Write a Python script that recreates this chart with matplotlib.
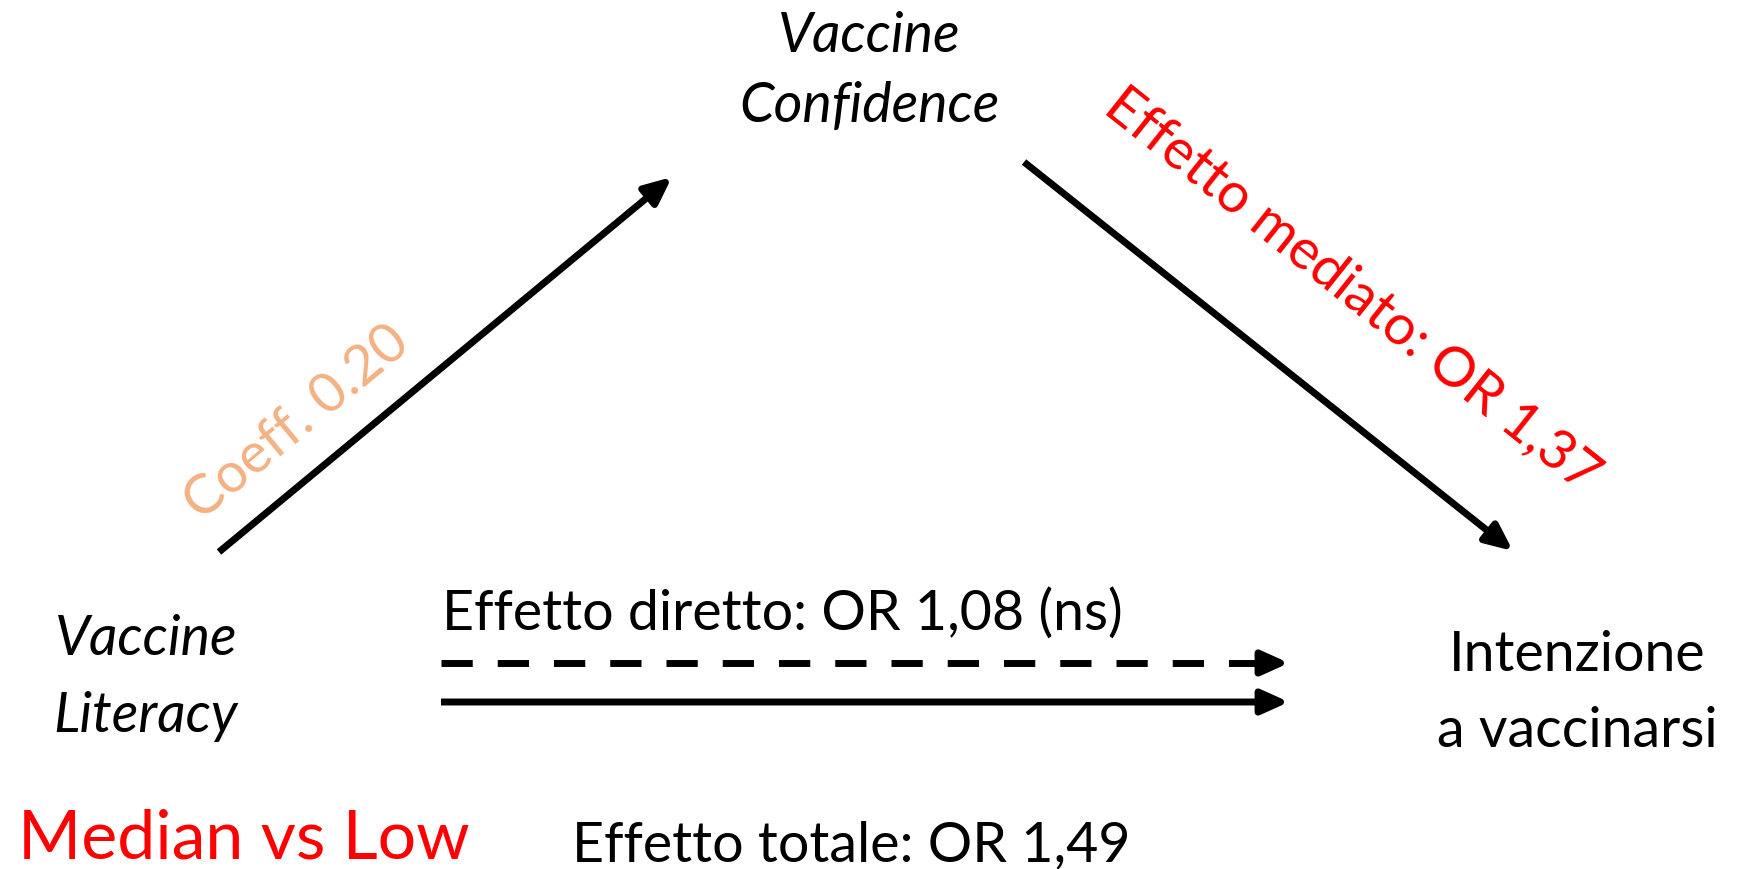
"""
Mediation diagram: Vaccine Literacy -> Vaccine Confidence -> Intenzione a vaccinarsi
(Median vs Low).
"""
import matplotlib
matplotlib.use('Agg')
import matplotlib.pyplot as plt

plt.rcParams['font.family'] = ['Lato', 'DejaVu Sans']

# ---- Data ----
NODE_X = ['Vaccine', 'Literacy']          # exposure
NODE_M = ['Vaccine', 'Confidence']        # mediator
NODE_Y = ['Intenzione', 'a vaccinarsi']   # outcome
COEFF_A = 0.20
OR_MEDIATED = 1.37
OR_DIRECT = 1.08
OR_TOTAL = 1.49
DIRECT_NS = True
CONTRAST = 'Median vs Low'


def it_num(v):
    # Italian decimal comma
    return f"{v:.2f}".replace('.', ',')


# ---- Layout (pixel coordinates, y down) ----
W, H = 1742, 870
FS = 40
FS_BIG = 49
LW = 5
RED = '#FF0000'
ORANGE = '#F4B183'

fig = plt.figure(figsize=(W / 100, H / 100), dpi=100)
ax = fig.add_axes([0, 0, 1, 1])
ax.set_xlim(0, W)
ax.set_ylim(H, 0)
ax.axis('off')


def arrow(x0, y0, x1, y1):
    ax.annotate('', xy=(x1, y1), xytext=(x0, y0),
                arrowprops=dict(arrowstyle='-|>,head_length=0.6,head_width=0.27',
                                mutation_scale=27, lw=LW, color='black',
                                shrinkA=0, shrinkB=0, capstyle='butt'))


# Node labels
for txt, y in zip(NODE_M, [52, 122]):
    ax.text(869, y, txt, fontsize=FS, style='italic', ha='center', va='baseline')
for txt, y in zip(NODE_X, [655, 732]):
    ax.text(146, y, txt, fontsize=FS, style='italic', ha='center', va='baseline')
for txt, y in zip(NODE_Y, [671, 747]):
    ax.text(1577, y, txt, fontsize=FS, ha='center', va='baseline')

# a path: X -> M
arrow(219, 553, 672, 178)
ax.text(297, 423, f"Coeff. {COEFF_A:.2f}", fontsize=FS, color=ORANGE,
        rotation=39.5, rotation_mode='anchor', ha='center', va='center')

# b path: M -> Y
arrow(1024, 163, 1513, 552)
ax.text(1352, 290, f"Effetto mediato: OR {it_num(OR_MEDIATED)}", fontsize=FS,
        color=RED, rotation=-38.5, rotation_mode='anchor', ha='center', va='center')

# direct effect (dashed) and total effect (solid)
ax.plot([441, 1262], [664, 664], color='black', lw=LW,
        linestyle=(0, (4.5, 3.6)), solid_capstyle='butt', dash_capstyle='butt')
arrow(1260, 664, 1289, 664)
arrow(441, 703, 1289, 703)

direct = f"Effetto diretto: OR {it_num(OR_DIRECT)}" + (" (ns)" if DIRECT_NS else "")
ax.text(442, 630, direct, fontsize=FS, ha='left', va='baseline')
ax.text(572, 861, f"Effetto totale: OR {it_num(OR_TOTAL)}", fontsize=FS,
        ha='left', va='baseline')
ax.text(18, 859, CONTRAST, fontsize=FS_BIG, color=RED, ha='left', va='baseline')

fig.savefig('out.png', dpi=100, facecolor='white')
